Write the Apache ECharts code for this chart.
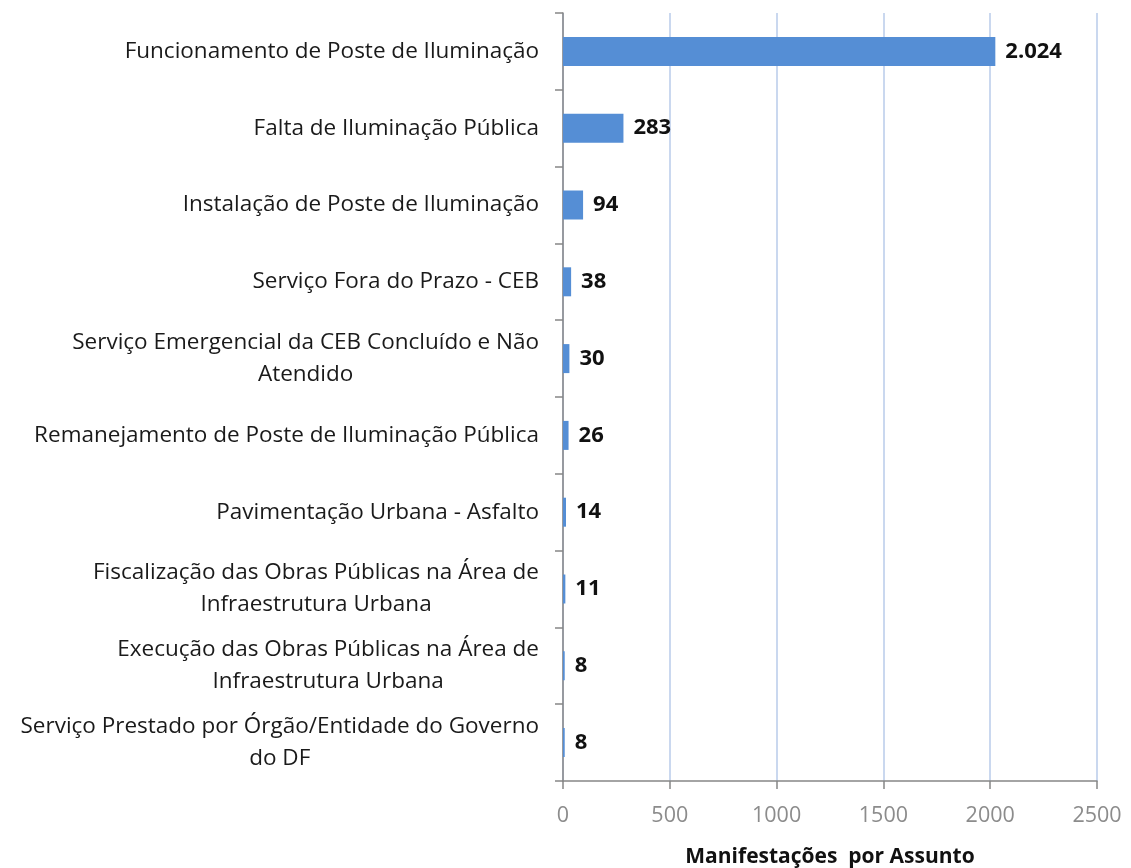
<!DOCTYPE html>
<html>
<head>
<meta charset="utf-8">
<script src="https://cdn.jsdelivr.net/npm/echarts@6/dist/echarts.min.js"></script>
<style>
  html, body { margin: 0; padding: 0; background: #fff; }
  #main { width: 1131px; height: 868px; }
</style>
</head>
<body>
<div id="main"></div>
<script>
// assuntos, de cima para baixo
const assuntos = [
  'Funcionamento de Poste de Iluminação',
  'Falta de Iluminação Pública',
  'Instalação de Poste de Iluminação',
  'Serviço Fora do Prazo - CEB',
  'Serviço Emergencial da CEB Concluído e Não\nAtendido',
  'Remanejamento de Poste de Iluminação Pública',
  'Pavimentação Urbana - Asfalto',
  'Fiscalização das Obras Públicas na Área de\nInfraestrutura Urbana',
  'Execução das Obras Públicas na Área de\nInfraestrutura Urbana',
  'Serviço Prestado por Órgão/Entidade do Governo\ndo DF'
]
const manifestacoes = [2024, 283, 94, 38, 30, 26, 14, 11, 8, 8]
const ticksX = [0, 500, 1000, 1500, 2000, 2500]

const fonte = '"Open Sans", sans-serif'

// 2024 -> 2.024
const milhar = v => String(v).replace(/\B(?=(\d{3})+(?!\d))/g, '.')

const chart = echarts.init(document.getElementById('main'))
chart.setOption({
  animation: false,
  grid: {
    left: 563,
    right: 34,
    top: 13,
    bottom: 87,
    outerBoundsMode: 'none'
  },
  xAxis: {
    type: 'value',
    min: ticksX[0],
    max: ticksX[ticksX.length - 1],
    interval: 500,
    name: 'Manifestações  por Assunto',
    nameLocation: 'middle',
    nameGap: 66,
    nameTextStyle: {
      fontFamily: fonte,
      fontSize: 21,
      fontWeight: 'bold',
      color: '#111'
    },
    axisLine: { show: true, lineStyle: { color: '#868686', width: 1.5 } },
    axisTick: { show: true, length: 8, lineStyle: { color: '#868686', width: 1.5 } },
    axisLabel: {
      margin: 24,
      fontFamily: fonte,
      fontSize: 21.5,
      color: '#8c8c8c',
      formatter: v => String(v)
    },
    splitLine: { show: true, lineStyle: { color: '#b8cbea', width: 1.5 } }
  },
  yAxis: {
    type: 'category',
    inverse: true,
    data: assuntos,
    axisLine: { show: true, lineStyle: { color: '#868686', width: 1.5 } },
    axisTick: { show: true, length: 8, alignWithLabel: false, lineStyle: { color: '#868686', width: 1.5 } },
    axisLabel: {
      margin: 24,
      color: '#1a1a1a',
      fontFamily: fonte,
      fontSize: 22.5,
      lineHeight: 32,
      formatter: v => v.split('\n').map(l => '{c|' + l + '}').join('\n'),
      rich: {
        c: {
          align: 'center',
          fontFamily: fonte,
          fontSize: 22.5,
          lineHeight: 32,
          color: '#1a1a1a'
        }
      }
    }
  },
  series: [{
    type: 'bar',
    data: manifestacoes,
    barWidth: 29,
    itemStyle: { color: '#558ed5' },
    label: {
      show: true,
      position: 'right',
      distance: 10,
      fontFamily: fonte,
      fontSize: 22,
      fontWeight: 'bold',
      color: '#111',
      formatter: p => milhar(p.value)
    }
  }]
})
</script>
</body>
</html>
